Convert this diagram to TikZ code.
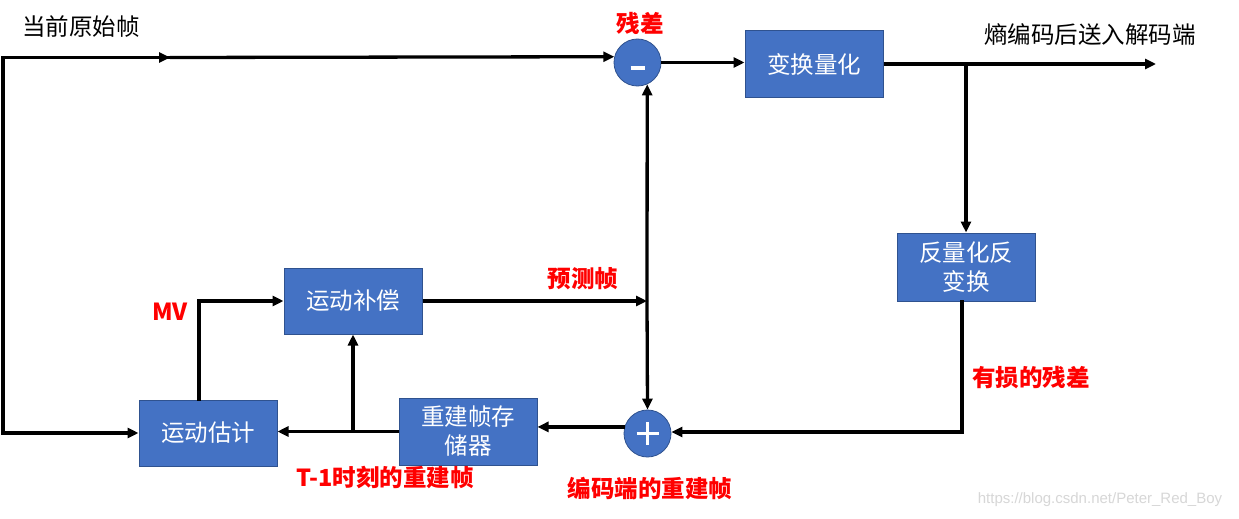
\documentclass[tikz,border=0pt]{standalone}
\usepackage{fontspec}
\setmainfont{Noto Sans CJK SC}
\newfontfamily\wmfont{Liberation Sans}
\usetikzlibrary{arrows.meta,calc}
\definecolor{boxblue}{HTML}{4472C4}
\definecolor{boxedge}{HTML}{2F528F}
\definecolor{lblred}{HTML}{FF0000}
\definecolor{wmgray}{RGB}{215,215,215}
\begin{document}
\begin{tikzpicture}[x=1pt,y=-1pt,
  box/.style={draw=boxedge, line width=1pt, fill=boxblue, text=white, minimum width=138pt, minimum height=66pt, inner sep=0pt, align=center, font=\fontsize{23.5}{29}\selectfont},
  sumnode/.style={circle, draw=boxedge, line width=0.8pt, fill=boxblue, minimum size=47pt, inner sep=0pt},
  conn/.style={line width=3.3pt, black},
  arr/.style={conn, -{Triangle[length=11pt,width=10pt]}},
  blacklbl/.style={text=black, font=\fontsize{23.5}{29}\selectfont, inner sep=0pt},
  redlbl/.style={text=lblred, font=\fontsize{23.5}{29}\selectfont\bfseries, inner sep=0pt},
  signline/.style={white, line width=3.5pt}
]
\useasboundingbox (0,0) rectangle (1239,519);
\fill[white] (0,0) rectangle (1239,519);

% boxes
\node[box] (tq) at (814,64) {变换量化};
\node[box, minimum height=68pt] (iq) at (966,267) {反量化反\\变换};
\node[box] (mc) at (353,301) {运动补偿};
\node[box] (me) at (208,433) {运动估计};
\node[box, minimum height=67pt] (fs) at (468,431.5) {重建帧存\\储器};

% sum nodes
\node[sumnode] (minus) at (637.5,62.5) {};
\node[sumnode] (plus) at (647.5,433.5) {};
\draw[signline] ($(minus.center)+(-7,5.5)$) -- ($(minus.center)+(7,5.5)$);
\draw[white, line width=2.2pt] ($(plus.center)+(-11,0)$) -- ($(plus.center)+(11,0)$);
\draw[white, line width=2.2pt] ($(plus.center)+(0,-11.5)$) -- ($(plus.center)+(0,11.5)$);

% coordinates
\coordinate (tl) at (3,57.5);
\coordinate (bl) at (3,433);
\coordinate (topmid) at (170,57.5);
\coordinate (out) at (1156,64);
\coordinate (br) at (966,64);
\coordinate (j) at (647,301);
\coordinate (c1) at (962,432);
\coordinate (mvc) at (199,301);

% connectors
\draw[conn, line cap=rect] (bl) -- (tl) -- (topmid);
\draw[arr] (tl) -- (topmid);
\draw[arr] (topmid) -- (minus.166);
\draw[arr] (bl) -- (me.west |- bl);
\draw[arr] (minus.east) -- (tq.west |- minus.east);
\draw[arr] (tq.east |- out) -- (out);
\draw[arr] (br) -- (iq.north);
\draw[conn, line cap=rect] (iq.south -| c1) -- (c1);
\draw[arr] (c1) -- (plus.east |- c1);
\draw[arr] (mc.east |- j) -- (j);
\draw[arr] (j) -- (minus.-66);
\draw[arr] (j) -- (plus.north);
\draw[arr] (plus.164) -- (fs.east |- plus.164);
\draw[arr] (fs.west) -- (me.east |- fs.west);
\draw[arr] (mc.south |- fs.west) -- (mc.south);
\draw[conn, line cap=rect] (me.north -| mvc) -- (mvc);
\draw[arr] (mvc) -- (mc.west |- mvc);

% labels
\node[blacklbl] (l1) at (81,27) {当前原始帧};
\node[redlbl] (l2) at (640,23) {残差};
\node[blacklbl] (l3) at (1090,35) {熵编码后送入解码端};
\node[redlbl] (l4) at (583,279) {预测帧};
\node[redlbl] (l5) at (170,312) {MV};
\node[redlbl] (l6) at (1031,378) {有损的残差};
\node[redlbl] (l7) at (385,478) {T-1时刻的重建帧};
\node[redlbl] (l8) at (650,488) {编码端的重建帧};
\node[text=wmgray, font=\wmfont\fontsize{15}{18}\selectfont, inner sep=0pt] (wm) at (1100,500) {https://blog.csdn.net/Peter\_Red\_Boy};
\end{tikzpicture}
\end{document}
